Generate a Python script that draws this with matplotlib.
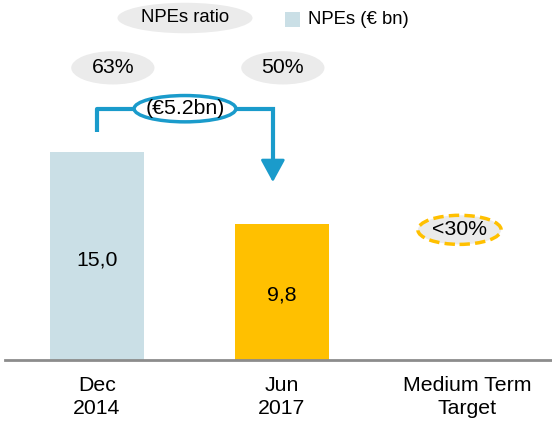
import matplotlib.pyplot as plt
from matplotlib.patches import Ellipse, Rectangle

plt.rcParams['font.family'] = ['Liberation Sans', 'DejaVu Sans']

# data
categories = ['Dec\n2014', 'Jun\n2017', 'Medium Term\nTarget']
npes = [15.0, 9.8]
npe_labels = ['15,0', '9,8']
ratios = ['63%', '50%', '<30%']
reduction = '(€5.2bn)'

light_blue = '#CADFE6'
yellow = '#FFC000'
grey = '#EBEBEB'
blue = '#1A9BCB'
fs = 15.3
fs_leg = 13.3

fig = plt.figure(figsize=(5.52, 4.25), dpi=100)
ax = fig.add_axes([5 / 552, 65 / 425, 547 / 552, 360 / 425])
ax.set_xlim(-0.497, 2.46)
ax.set_ylim(0, 26)
ax.axis('off')

# bars
x = [0, 1]
ax.bar(x, npes, width=0.51, color=[light_blue, yellow])
for xi, v, lab in zip(x, npes, npe_labels):
    ax.text(xi, v * 0.48, lab, ha='center', va='center', fontsize=fs)

# baseline
ax.axhline(0, color='#8C8C8C', lw=2, clip_on=False)

# category labels
for i, c in enumerate(categories):
    ax.text(i, -1.15, c, ha='center', va='top', fontsize=fs, linespacing=1.3)

# ratio ellipses
ratio_pos = [(0.086, 21.1), (1.005, 21.1)]
for (px, py), r in zip(ratio_pos, ratios[:2]):
    ax.add_patch(Ellipse((px, py), 0.45, 2.4, facecolor=grey, edgecolor='none'))
    ax.text(px, py, r, ha='center', va='center', fontsize=fs)

ax.add_patch(Ellipse((1.96, 9.4), 0.45, 2.1, facecolor=grey, edgecolor=yellow,
                     lw=2.5, ls=(0, (3, 1.5))))
ax.text(1.96, 9.4, ratios[2], ha='center', va='center', fontsize=fs)

# reduction bracket
ex, ey, ew = 0.476, 18.15, 0.55
ax.plot([0, 0, ex - ew / 2], [npes[0] + 1.5, ey, ey], color=blue, lw=3,
        solid_capstyle='butt')
ax.plot([ex + ew / 2, 0.951, 0.951], [ey, ey, 14.0], color=blue, lw=3,
        solid_capstyle='butt', solid_joinstyle='miter')
ax.annotate('', xy=(0.951, 12.85), xytext=(0.951, 14.2),
            arrowprops=dict(arrowstyle='-|>,head_width=0.3,head_length=0.55',
                            color=blue, lw=2, mutation_scale=25,
                            shrinkA=0, shrinkB=0))
ax.add_patch(Ellipse((ex, ey), ew, 1.9, facecolor='white', edgecolor=blue, lw=2.5))
ax.text(ex, ey, reduction, ha='center', va='center', fontsize=fs)

# legend
ax.add_patch(Ellipse((0.476, 24.7), 0.73, 2.2, facecolor=grey, edgecolor='none',
                     clip_on=False))
ax.text(0.476, 24.7, 'NPEs ratio', ha='center', va='center', fontsize=fs_leg)
fig.patches.append(Rectangle((285 / 552, 1 - 27 / 425), 15 / 552, 15 / 425,
                             transform=fig.transFigure, facecolor=light_blue,
                             edgecolor='none'))
fig.text(308 / 552, 1 - 19 / 425, 'NPEs (€ bn)', ha='left', va='center',
         fontsize=fs_leg)

fig.savefig('out.png', dpi=100)
